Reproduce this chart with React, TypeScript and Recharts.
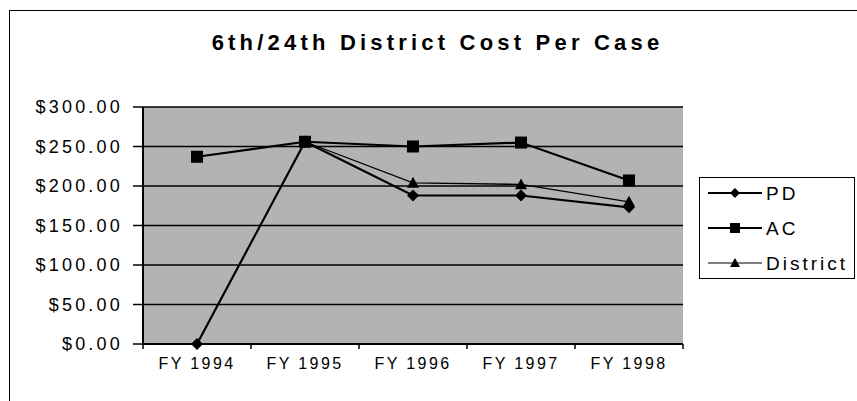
import React from "react";
import { LineChart, Line, XAxis, YAxis, CartesianGrid } from "recharts";

const years = ["FY 1994", "FY 1995", "FY 1996", "FY 1997", "FY 1998"];
const pd = [0, 256, 188, 188, 173];
const ac = [237, 256, 250, 255, 207];
const district = [null, 256, 204, 202, 180];
const yTicks = [0, 50, 100, 150, 200, 250, 300];

const data = years.map((year, i) => ({
  year,
  PD: pd[i],
  AC: ac[i],
  District: district[i],
}));

const font = "Arial, 'Liberation Sans', sans-serif";
const plotWidth = 540;
const halfStep = plotWidth / years.length / 2;

function Diamond({ cx, cy, size = 6 }: any) {
  if (cx == null || cy == null) return null;
  return (
    <path
      d={`M${cx},${cy - size}L${cx + size},${cy}L${cx},${cy + size}L${cx - size},${cy}Z`}
      fill="#000"
    />
  );
}

function Square({ cx, cy, size = 6 }: any) {
  if (cx == null || cy == null) return null;
  return <rect x={cx - size} y={cy - size} width={size * 2} height={size * 2} fill="#000" />;
}

function Triangle({ cx, cy, size = 6 }: any) {
  if (cx == null || cy == null) return null;
  return (
    <path
      d={`M${cx},${cy - size}L${cx + size},${cy + size * 0.8}L${cx - size},${cy + size * 0.8}Z`}
      fill="#000"
    />
  );
}

// category label plus the little divider ticks between categories
function YearTick({ x, y, payload, index }: any) {
  const axisY = y - 14;
  return (
    <g>
      <line x1={x - halfStep} x2={x - halfStep} y1={axisY} y2={axisY + 5} stroke="#000" strokeWidth={1.5} />
      {index === years.length - 1 && (
        <line x1={x + halfStep} x2={x + halfStep} y1={axisY} y2={axisY + 5} stroke="#000" strokeWidth={1.5} />
      )}
      <text
        x={x}
        y={y}
        dy="0.71em"
        textAnchor="middle"
        fill="#000"
        fontFamily={font}
        fontSize={16}
        letterSpacing={2.4}
      >
        {payload.value}
      </text>
    </g>
  );
}

const legendItems = [
  { name: "PD", Marker: Diamond, width: 2 },
  { name: "AC", Marker: Square, width: 2 },
  { name: "District", Marker: Triangle, width: 1.2 },
];

function LegendBox() {
  return (
    <div
      style={{
        position: "absolute",
        left: 699,
        top: 177,
        border: "1.5px solid #000",
        width: 156,
        height: 102,
        boxSizing: "border-box",
        background: "#fff",
      }}
    >
      <svg width={153} height={99} style={{ display: "block" }}>
        {legendItems.map((item, i) => {
          const y = 15 + i * 35;
          return (
            <g key={item.name}>
              <line x1={8} x2={62} y1={y} y2={y} stroke="#000" strokeWidth={item.width} />
              <item.Marker cx={35} cy={y} size={5} />
              <text
                x={66}
                y={y + 7}
                fontFamily={font}
                fontSize={19}
                letterSpacing={3}
                fill="#000"
              >
                {item.name}
              </text>
            </g>
          );
        })}
      </svg>
    </div>
  );
}

export default function App() {
  return (
    <div
      style={{
        position: "fixed",
        left: 0,
        top: 0,
        width: 857,
        height: 401,
        background: "#fff",
        overflow: "hidden",
      }}
    >
      <div
        style={{
          position: "absolute",
          left: 9,
          top: 10,
          width: 860,
          height: 400,
          borderLeft: "1.5px solid #000",
          borderTop: "1.5px solid #000",
        }}
      />
      <div
        style={{
          position: "absolute",
          left: 9,
          top: 30,
          width: 857,
          textAlign: "center",
          fontFamily: font,
          fontWeight: "bold",
          fontSize: 22,
          letterSpacing: 4.2,
          color: "#000",
        }}
      >
        6th/24th District Cost Per Case
      </div>
      <div style={{ position: "absolute", left: 0, top: 0 }}>
        <LineChart
          width={857}
          height={401}
          data={data}
          margin={{ top: 107, right: 174, bottom: 27, left: 0 }}
        >
          <CartesianGrid
            vertical={false}
            stroke="#000"
            strokeWidth={1.5}
            fill="#b3b3b3"
            fillOpacity={1}
          />
          <XAxis
            dataKey="year"
            height={30}
            interval={0}
            padding={{ left: halfStep, right: halfStep }}
            tickLine={false}
            tickSize={6}
            tickMargin={8}
            axisLine={{ stroke: "#000", strokeWidth: 2 }}
            tick={<YearTick />}
          />
          <YAxis
            width={143}
            domain={[0, 300]}
            ticks={yTicks}
            interval={0}
            tickSize={10}
            tickLine={{ stroke: "#000", strokeWidth: 1.5 }}
            axisLine={{ stroke: "#000", strokeWidth: 2 }}
            tick={{ fill: "#000", fontFamily: font, fontSize: 18, letterSpacing: 3.2 }}
            tickMargin={10}
            tickFormatter={(v: number) => `$${v.toFixed(2)}`}
          />
          <YAxis
            yAxisId="right"
            orientation="right"
            width={0}
            domain={[0, 300]}
            tick={false}
            tickLine={false}
            axisLine={{ stroke: "#000", strokeWidth: 2 }}
          />
          <Line
            dataKey="District"
            stroke="#000"
            strokeWidth={1.3}
            dot={(p: any) => <Triangle key={`t${p.index}`} cx={p.cx} cy={p.cy} />}
            isAnimationActive={false}
          />
          <Line
            dataKey="PD"
            stroke="#000"
            strokeWidth={2.2}
            dot={(p: any) => <Diamond key={`d${p.index}`} cx={p.cx} cy={p.cy} />}
            isAnimationActive={false}
          />
          <Line
            dataKey="AC"
            stroke="#000"
            strokeWidth={2.2}
            dot={(p: any) => <Square key={`s${p.index}`} cx={p.cx} cy={p.cy} />}
            isAnimationActive={false}
          />
        </LineChart>
      </div>
      <LegendBox />
    </div>
  );
}
